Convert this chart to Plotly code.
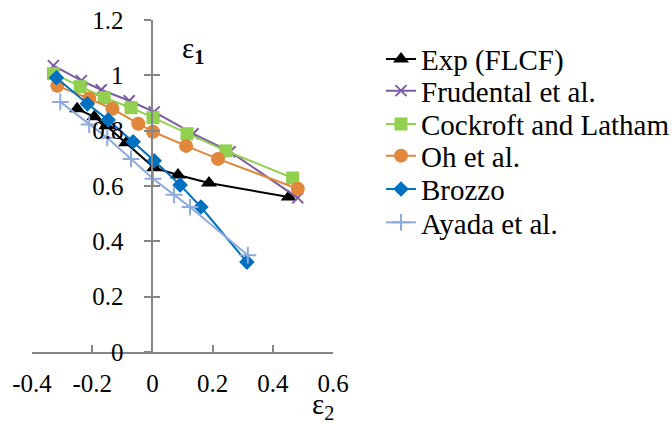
import plotly.graph_objects as go

# ---- data ----
exp_x = [-0.250, -0.193, -0.153, -0.087, 0.006, 0.085, 0.188, 0.453]
exp_y = [0.879, 0.850, 0.818, 0.756, 0.666, 0.640, 0.611, 0.560]

fru_x = [-0.329, -0.236, -0.170, -0.077, 0.006, 0.135, 0.258, 0.483]
fru_y = [1.035, 0.981, 0.948, 0.908, 0.868, 0.789, 0.724, 0.557]

coc_x = [-0.329, -0.240, -0.160, -0.071, 0.002, 0.115, 0.244, 0.466]
coc_y = [1.006, 0.959, 0.919, 0.883, 0.847, 0.789, 0.727, 0.629]

oh_x = [-0.316, -0.210, -0.133, -0.047, 0.002, 0.112, 0.218, 0.483]
oh_y = [0.962, 0.916, 0.879, 0.825, 0.796, 0.745, 0.698, 0.590]

bro_x = [-0.319, -0.216, -0.147, -0.064, 0.006, 0.092, 0.161, 0.314]
bro_y = [0.991, 0.897, 0.839, 0.760, 0.691, 0.604, 0.524, 0.325]

aya_x = [-0.306, -0.210, -0.150, -0.071, 0.002, 0.072, 0.125, 0.317]
aya_y = [0.904, 0.822, 0.774, 0.698, 0.626, 0.568, 0.524, 0.350]

names = ["Exp (FLCF)", "Frudental et al.", "Cockroft and Latham",
         "Oh et al.", "Brozzo", "Ayada et al."]

x_tickvals = [-0.4, -0.2, 0, 0.2, 0.4, 0.6]
x_ticktext = ["-0.4", "-0.2", "0", "0.2", "0.4", "0.6"]
y_tickvals = [0, 0.2, 0.4, 0.6, 0.8, 1.0, 1.2]
y_ticktext = ["0", "0.2", "0.4", "0.6", "0.8", "1", "1.2"]

FONT = "Liberation Serif, Times New Roman, serif"
AXIS_GRAY = "#868686"
W, H = 672, 425

series = [
    (exp_x, exp_y, names[0], "#000000", "triangle-up", 14, 0),
    (fru_x, fru_y, names[1], "#7B5BA1", "x-thin", 11, 2),
    (coc_x, coc_y, names[2], "#92D050", "square", 13, 0),
    (oh_x, oh_y, names[3], "#E0873C", "circle", 14, 0),
    (bro_x, bro_y, names[4], "#0070C0", "diamond", 12, 0),
    (aya_x, aya_y, names[5], "#8FAADC", "cross-thin", 12, 2),
]

# legend row centres (px from top) and legend left edge (px from left)
legend_rows = [59.2, 90.8, 124.2, 155.8, 189.2, 222.5]
legend_left = 381

fig = go.Figure()
legend_layouts = {}
for i, (xs, ys, nm, col, sym, sz, lw) in enumerate(series):
    lname = "legend" if i == 0 else f"legend{i + 1}"
    fig.add_trace(go.Scatter(
        x=xs, y=ys, name=nm, mode="lines+markers",
        line=dict(color=col, width=2),
        marker=dict(symbol=sym, size=sz, color=col,
                    line=dict(color=col, width=lw)),
        cliponaxis=False, legend=lname,
    ))
    legend_layouts[lname] = dict(
        xref="container", yref="container",
        x=legend_left / W, y=1 - legend_rows[i] / H,
        xanchor="left", yanchor="middle",
        font=dict(family=FONT, size=29, color="#000000"),
        bgcolor="rgba(0,0,0,0)", borderwidth=0,
    )

# dummy trace so the second (tick-only) y axis is drawn
fig.add_trace(go.Scatter(x=[None], y=[None], yaxis="y2", showlegend=False,
                         hoverinfo="skip"))

fig.update_layout(
    width=W, height=H,
    margin=dict(l=32, r=339, t=20, b=73, autoexpand=False),
    paper_bgcolor="white", plot_bgcolor="white",
    font=dict(family=FONT, color="#000000"),
    showlegend=True,
    xaxis=dict(
        range=[-0.4, 0.6], automargin=False,
        tickvals=x_tickvals, ticktext=x_ticktext,
        showgrid=False, zeroline=False,
        showline=True, linecolor=AXIS_GRAY, linewidth=2,
        ticks="inside", ticklen=7, tickcolor=AXIS_GRAY, tickwidth=2,
        tickfont=dict(family=FONT, size=25, color="#000000"),
        ticklabelstandoff=8,
    ),
    yaxis=dict(
        range=[0, 1.2], automargin=False,
        anchor="free", position=0.4,
        tickvals=y_tickvals, ticktext=y_ticktext,
        showgrid=False, zeroline=False,
        showline=True, linecolor=AXIS_GRAY, linewidth=2,
        ticks="outside", ticklen=7, tickcolor=AXIS_GRAY, tickwidth=2,
        tickfont=dict(family=FONT, size=25, color="#000000"),
        ticklabelstandoff=16,
    ),
    yaxis2=dict(
        range=[0, 1.2], automargin=False,
        overlaying="y", anchor="free", position=0.4, side="left",
        tickvals=y_tickvals,
        showgrid=False, zeroline=False, showline=False,
        ticks="inside", ticklen=7, tickcolor=AXIS_GRAY, tickwidth=2,
        showticklabels=False,
    ),
    annotations=[
        dict(x=0.135, y=1.093, xref="x", yref="y", showarrow=False,
             xanchor="center", yanchor="middle",
             text="ε<sub><b>1</b></sub>",
             font=dict(family=FONT, size=29, color="#000000")),
        dict(x=0.967, y=-0.163, xref="paper", yref="paper", showarrow=False,
             xanchor="center", yanchor="middle",
             text="ε<sub>2</sub>",
             font=dict(family=FONT, size=29, color="#000000")),
    ],
    **legend_layouts,
)

fig.write_html(
    "out.html",
    config={"displayModeBar": False},
    post_script="document.body.style.margin='0px';",
)
